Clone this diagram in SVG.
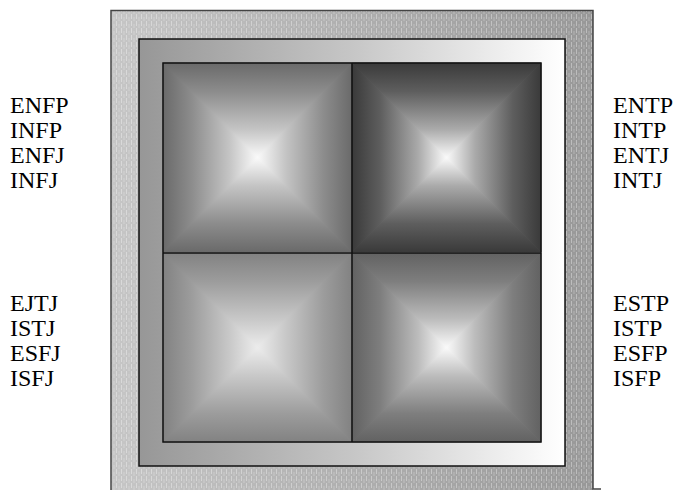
<svg xmlns="http://www.w3.org/2000/svg" width="688" height="490" viewBox="0 0 688 490">
<style>
.lbl{font-family:"Liberation Serif","Times New Roman",serif;font-size:24px;fill:#000}
.edge{fill:none;stroke:#111;stroke-width:1.5}
</style>
<defs>
<linearGradient id="outerG" x1="0" y1="0" x2="1" y2="0">
<stop offset="0" stop-color="#c6c6c6"/>
<stop offset="1" stop-color="#989898"/>
</linearGradient>
<pattern id="tex" width="5" height="7" patternUnits="userSpaceOnUse">
<rect x="1" y="0" width="1" height="5" fill="#fff" fill-opacity="0.35"/>
<rect x="3.5" y="3" width="1" height="5" fill="#fff" fill-opacity="0.25"/>
</pattern>
<linearGradient id="innerG" x1="0" y1="0" x2="1" y2="0">
<stop offset="0" stop-color="#979797"/>
<stop offset="0.5" stop-color="#c6c6c6"/>
<stop offset="1" stop-color="#ffffff"/>
</linearGradient>
<linearGradient id="gTL" x1="0" y1="0" x2="0" y2="1">
<stop offset="0" stop-color="#6a6a6a"/>
<stop offset="0.3" stop-color="#8c8c8c"/>
<stop offset="0.7" stop-color="#c4c4c4"/>
<stop offset="1" stop-color="#fafafa"/>
</linearGradient>
<linearGradient id="gTR" x1="0" y1="0" x2="0" y2="1">
<stop offset="0" stop-color="#3a3a3a"/>
<stop offset="0.3" stop-color="#5e5e5e"/>
<stop offset="0.7" stop-color="#aaaaaa"/>
<stop offset="1" stop-color="#fafafa"/>
</linearGradient>
<linearGradient id="gBL" x1="0" y1="0" x2="0" y2="1">
<stop offset="0" stop-color="#828282"/>
<stop offset="0.3" stop-color="#9c9c9c"/>
<stop offset="0.7" stop-color="#c8c8c8"/>
<stop offset="1" stop-color="#ececec"/>
</linearGradient>
<linearGradient id="gBR" x1="0" y1="0" x2="0" y2="1">
<stop offset="0" stop-color="#626262"/>
<stop offset="0.3" stop-color="#7e7e7e"/>
<stop offset="0.7" stop-color="#bcbcbc"/>
<stop offset="1" stop-color="#fafafa"/>
</linearGradient>
<polygon id="tri" points="-94.5,-94.5 94.5,-94.5 0,0"/>
</defs>

<g id="outer-frame">
<rect x="111" y="10" width="482" height="490" fill="url(#outerG)"/>
<rect x="111" y="10" width="482" height="490" fill="url(#tex)"/>
<path d="M111,500 V10.5 H593 V489 H601" fill="none" stroke="#444" stroke-width="1.5"/>
</g>

<g id="inner-frame">
<rect x="139" y="39" width="426" height="427" fill="url(#innerG)" stroke="#111" stroke-width="1.5"/>
</g>

<g id="quad-tl" transform="translate(257.5,157.5)" fill="url(#gTL)" stroke="url(#gTL)" stroke-width="0.8">
<use href="#tri"/>
<use href="#tri" transform="rotate(90)"/>
<use href="#tri" transform="rotate(180)"/>
<use href="#tri" transform="rotate(270)"/>
</g>
<g id="quad-tr" transform="translate(446.5,157.5)" fill="url(#gTR)" stroke="url(#gTR)" stroke-width="0.8">
<use href="#tri"/>
<use href="#tri" transform="rotate(90)"/>
<use href="#tri" transform="rotate(180)"/>
<use href="#tri" transform="rotate(270)"/>
</g>
<g id="quad-bl" transform="translate(257.5,347.5)" fill="url(#gBL)" stroke="url(#gBL)" stroke-width="0.8">
<use href="#tri"/>
<use href="#tri" transform="rotate(90)"/>
<use href="#tri" transform="rotate(180)"/>
<use href="#tri" transform="rotate(270)"/>
</g>
<g id="quad-br" transform="translate(446.5,347.5)" fill="url(#gBR)" stroke="url(#gBR)" stroke-width="0.8">
<use href="#tri"/>
<use href="#tri" transform="rotate(90)"/>
<use href="#tri" transform="rotate(180)"/>
<use href="#tri" transform="rotate(270)"/>
</g>

<g id="grid-lines">
<rect class="edge" x="163" y="63" width="378" height="379"/>
<line class="edge" x1="352" y1="63" x2="352" y2="442"/>
<line class="edge" x1="163" y1="253" x2="541" y2="253"/>
</g>

<g id="labels-left-top">
<text class="lbl" x="10" y="113">ENFP</text>
<text class="lbl" x="10" y="138">INFP</text>
<text class="lbl" x="10" y="163">ENFJ</text>
<text class="lbl" x="10" y="188">INFJ</text>
</g>
<g id="labels-right-top">
<text class="lbl" x="613" y="113">ENTP</text>
<text class="lbl" x="613" y="138">INTP</text>
<text class="lbl" x="613" y="163">ENTJ</text>
<text class="lbl" x="613" y="188">INTJ</text>
</g>
<g id="labels-left-bottom">
<text class="lbl" x="10" y="311">EJTJ</text>
<text class="lbl" x="10" y="336">ISTJ</text>
<text class="lbl" x="10" y="361">ESFJ</text>
<text class="lbl" x="10" y="386">ISFJ</text>
</g>
<g id="labels-right-bottom">
<text class="lbl" x="613" y="311">ESTP</text>
<text class="lbl" x="613" y="336">ISTP</text>
<text class="lbl" x="613" y="361">ESFP</text>
<text class="lbl" x="613" y="386">ISFP</text>
</g>
</svg>
